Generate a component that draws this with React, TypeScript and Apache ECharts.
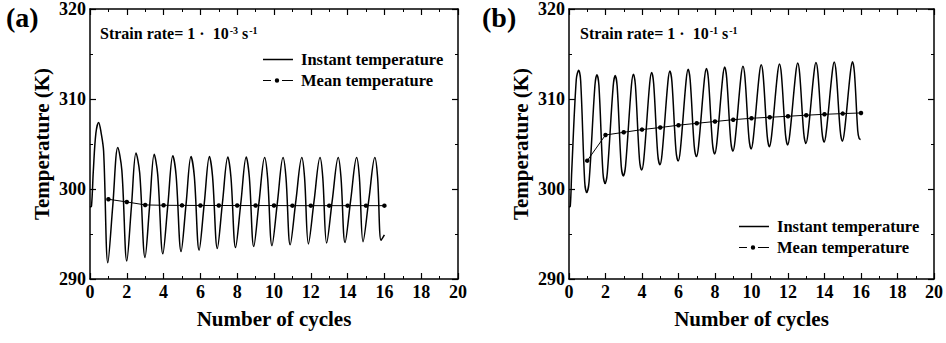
import React, { useEffect, useRef } from "react";
import * as echarts from "echarts";

// ---------- data ----------
const SERIES_NAMES = ["Instant temperature", "Mean temperature"];
const PANEL_LABELS = ["(a)", "(b)"];
const RATE_EXPONENTS = ["-3", "-1"];
const X_TITLE = "Number of cycles";
const Y_TITLE = "Temperature (K)";
const X_MIN = 0;
const X_MAX = 20;
const X_STEP = 2;
const Y_MIN = 290;
const Y_MAX = 320;
const Y_STEP = 10;

// panel (a) instant temperature [cycle, K]
const instantA: [number, number][] = [
  [0, 298.0], [0.08, 298.1], [0.18, 302.0], [0.32, 306.2], [0.47, 307.4], [0.6, 306.3], [0.74, 304.2], [0.97, 291.8],
  [1.24, 298.2], [1.51, 304.6], [1.73, 302.1], [2.0, 292.0],
  [2.25, 298.0], [2.5, 304.0], [2.7, 301.8], [2.99, 292.4],
  [3.24, 298.1], [3.49, 303.85], [3.68, 301.6], [3.96, 292.8],
  [4.23, 298.2], [4.5, 303.7], [4.68, 301.5], [4.95, 293.05],
  [5.22, 298.3], [5.49, 303.6], [5.67, 301.4], [5.93, 293.2],
  [6.21, 298.4], [6.49, 303.6], [6.66, 301.4], [6.92, 293.4],
  [7.2, 298.5], [7.49, 303.55], [7.66, 301.3], [7.91, 293.5],
  [8.2, 298.5], [8.49, 303.55], [8.66, 301.3], [8.9, 293.6],
  [9.19, 298.6], [9.49, 303.5], [9.65, 301.3], [9.89, 293.7],
  [10.19, 298.6], [10.49, 303.5], [10.65, 301.3], [10.88, 293.8],
  [11.19, 298.7], [11.51, 303.5], [11.66, 301.3], [11.87, 293.9],
  [12.18, 298.7], [12.5, 303.5], [12.65, 301.3], [12.86, 294.0],
  [13.17, 298.8], [13.49, 303.5], [13.64, 301.3], [13.86, 294.05],
  [14.17, 298.8], [14.49, 303.5], [14.64, 301.3], [14.84, 294.15],
  [15.16, 298.9], [15.48, 303.5], [15.63, 301.3], [15.82, 294.3],
  [16.0, 294.9],
];

// panel (b) instant temperature [cycle, K]
const instantB: [number, number][] = [
  [0, 298.0], [0.07, 298.1], [0.15, 302.0], [0.4, 312.2], [0.53, 313.2], [0.64, 312.0], [0.86, 300.8], [0.97, 299.6],
  [1.1, 300.8], [1.42, 311.5], [1.53, 312.7], [1.64, 311.5], [1.86, 301.8], [1.98, 300.6],
  [2.1, 301.8], [2.42, 311.4], [2.53, 312.6], [2.64, 311.4], [2.86, 302.6], [2.98, 301.45],
  [3.1, 302.6], [3.42, 311.5], [3.53, 312.75], [3.64, 311.5], [3.86, 303.3], [3.98, 302.1],
  [4.1, 303.3], [4.42, 311.7], [4.53, 312.95], [4.64, 311.7], [4.86, 303.9], [4.98, 302.7],
  [5.1, 303.9], [5.42, 311.9], [5.53, 313.1], [5.64, 311.9], [5.86, 304.3], [5.98, 303.1],
  [6.1, 304.3], [6.42, 312.1], [6.53, 313.3], [6.64, 312.1], [6.86, 304.8], [6.98, 303.6],
  [7.1, 304.8], [7.42, 312.2], [7.53, 313.4], [7.64, 312.2], [7.86, 305.1], [7.98, 303.9],
  [8.1, 305.1], [8.42, 312.35], [8.53, 313.55], [8.64, 312.35], [8.86, 305.4], [8.98, 304.2],
  [9.1, 305.4], [9.42, 312.45], [9.53, 313.65], [9.64, 312.45], [9.86, 305.65], [9.98, 304.45],
  [10.1, 305.65], [10.42, 312.6], [10.53, 313.8], [10.64, 312.6], [10.86, 305.9], [10.98, 304.7],
  [11.1, 305.9], [11.42, 312.7], [11.53, 313.9], [11.64, 312.7], [11.86, 306.1], [11.98, 304.9],
  [12.1, 306.1], [12.42, 312.8], [12.53, 314.0], [12.64, 312.8], [12.86, 306.25], [12.98, 305.05],
  [13.1, 306.25], [13.42, 312.85], [13.53, 314.05], [13.64, 312.85], [13.86, 306.4], [13.98, 305.2],
  [14.1, 306.4], [14.42, 312.9], [14.53, 314.1], [14.64, 312.9], [14.86, 306.5], [14.98, 305.3],
  [15.1, 306.5], [15.42, 312.95], [15.53, 314.15], [15.64, 312.95], [15.82, 306.5], [15.9, 305.6], [15.98, 305.5],
];

// mean temperature per cycle
const meanCycles = [1, 2, 3, 4, 5, 6, 7, 8, 9, 10, 11, 12, 13, 14, 15, 16];
const meanA = [298.86, 298.56, 298.23, 298.19, 298.18, 298.17, 298.17, 298.16, 298.16, 298.16, 298.15, 298.15, 298.15, 298.15, 298.15, 298.15];
const meanB = [303.15, 306.0, 306.3, 306.6, 306.83, 307.09, 307.3, 307.5, 307.7, 307.86, 307.97, 308.08, 308.2, 308.3, 308.38, 308.45];

// ---------- styling ----------
const FONT = "'Liberation Serif', 'Times New Roman', serif";
const BLACK = "#000";

const GRIDS = [
  { left: 90, top: 8, width: 368, height: 271 },
  { left: 569, top: 8, width: 368, height: 271 },
];
const LEGEND_POS = [
  { left: 263, top: 51 },
  { left: 739, top: 218 },
];
const LABEL_POS = [
  { left: 6, top: 3 },
  { left: 482, top: 3 },
];
const RATE_POS = [
  { left: 100, top: 25 },
  { left: 580, top: 25 },
];

// legend icons (30 x 12 box): plain line, and line with a dot
const ICON_LINE = "path://M0,0H30V0.01H0Z M0,5.3H30V6.7H0Z M0,12H30V12.01H0Z";
const ICON_DOT =
  "path://M0,0H30V0.01H0Z M0,5.4H8V6.6H0Z M11.8,6A2.2,2.2 0 1 1 16.2,6A2.2,2.2 0 1 1 11.8,6Z M19,5.4H30V6.6H19Z M0,12H30V12.01H0Z";

const axisLine = { show: true, onZero: false, lineStyle: { color: BLACK, width: 1.5 } };
const axisTick = { show: true, inside: true, length: 6, lineStyle: { color: BLACK, width: 1.2 } };
const minorTick = { show: true, splitNumber: 2, length: 3, lineStyle: { color: BLACK, width: 1 } };
const tickLabel = { color: BLACK, fontSize: 18, fontWeight: "bold", fontFamily: FONT };
const titleStyle = { color: BLACK, fontSize: 21, fontWeight: "bold", fontFamily: FONT };

function buildOption() {
  const xAxis: any[] = [];
  const yAxis: any[] = [];
  const series: any[] = [];
  const legend: any[] = [];
  const title: any[] = [];
  const instants = [instantA, instantB];
  const means = [meanA, meanB];

  GRIDS.forEach((_, i) => {
    xAxis.push({
      gridIndex: i, type: "value", min: X_MIN, max: X_MAX, interval: X_STEP, position: "bottom",
      axisLine, axisTick, minorTick, splitLine: { show: false },
      axisLabel: { ...tickLabel, margin: 4 },
      name: X_TITLE, nameLocation: "middle", nameGap: 29, nameTextStyle: titleStyle,
    });
    xAxis.push({
      gridIndex: i, type: "value", min: X_MIN, max: X_MAX, interval: X_STEP, position: "top",
      axisLine, axisTick, minorTick, splitLine: { show: false }, axisLabel: { show: false },
    });
    yAxis.push({
      gridIndex: i, type: "value", min: Y_MIN, max: Y_MAX, interval: Y_STEP, position: "left",
      axisLine, axisTick, minorTick, splitLine: { show: false },
      axisLabel: { ...tickLabel, margin: 4 },
      name: Y_TITLE, nameLocation: "middle", nameGap: 38, nameRotate: 90, nameTextStyle: titleStyle,
    });
    yAxis.push({
      gridIndex: i, type: "value", min: Y_MIN, max: Y_MAX, interval: Y_STEP, position: "right",
      axisLine, axisTick, minorTick, splitLine: { show: false }, axisLabel: { show: false },
    });

    series.push({
      type: "line", name: SERIES_NAMES[0], xAxisIndex: 2 * i, yAxisIndex: 2 * i,
      data: instants[i], smooth: 0.35, symbol: "none",
      lineStyle: { color: BLACK, width: 1.5 }, itemStyle: { color: BLACK },
    });
    series.push({
      type: "line", name: SERIES_NAMES[1], xAxisIndex: 2 * i, yAxisIndex: 2 * i,
      data: meanCycles.map((c, k) => [c, means[i][k]]), symbol: "circle", symbolSize: 4.5,
      lineStyle: { color: BLACK, width: 1 }, itemStyle: { color: BLACK },
    });

    legend.push({
      ...LEGEND_POS[i], orient: "vertical", itemWidth: 30, itemHeight: 12, itemGap: 4, padding: 0,
      data: [
        { name: SERIES_NAMES[0], icon: ICON_LINE },
        { name: SERIES_NAMES[1], icon: ICON_DOT },
      ],
      selectedMode: false,
      itemStyle: { color: BLACK, borderWidth: 0 },
      lineStyle: { width: 0 },
      textStyle: { color: BLACK, fontSize: 16.5, fontWeight: "bold", fontFamily: FONT, padding: [0, 0, 0, 3] },
    });

    title.push({
      text: PANEL_LABELS[i], ...LABEL_POS[i], padding: 0,
      textStyle: { color: BLACK, fontSize: 28, fontWeight: "bold", fontFamily: FONT },
    });
    title.push({
      text: `Strain rate= 1 \u00B7  10{sup|${RATE_EXPONENTS[i]}} s{sup|-1}`, ...RATE_POS[i], padding: 0,
      textStyle: {
        color: BLACK, fontSize: 16, fontWeight: "bold", fontFamily: FONT,
        rich: {
          sup: { color: BLACK, fontSize: 10, fontWeight: "bold", fontFamily: FONT, verticalAlign: "top", padding: [0, 0, 6, 1] },
        },
      },
    });
  });

  return {
    animation: false,
    backgroundColor: "#fff",
    grid: GRIDS,
    xAxis, yAxis, series, legend, title,
  };
}

export default function App() {
  const ref = useRef<HTMLDivElement>(null);
  useEffect(() => {
    if (!ref.current) return;
    const chart = echarts.init(ref.current, undefined, { renderer: "svg" });
    chart.setOption(buildOption() as any);
    return () => chart.dispose();
  }, []);
  return <div ref={ref} style={{ position: "absolute", left: 0, top: 0, width: 946, height: 343 }} />;
}
